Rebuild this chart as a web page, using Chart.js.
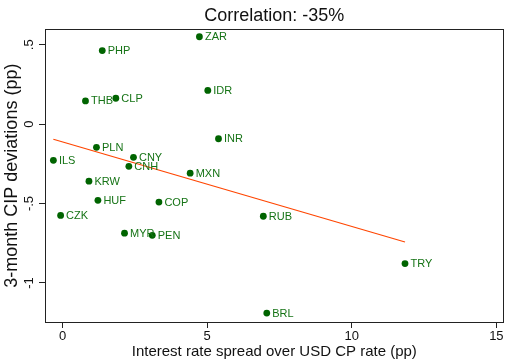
<!DOCTYPE html>
<html>
<head>
<meta charset="utf-8">
<script src="https://cdn.jsdelivr.net/npm/chart.js@4/dist/chart.umd.min.js"></script>
<style>
  html, body { margin: 0; padding: 0; background: #fff; }
  canvas { display: block; }
</style>
</head>
<body>
<canvas id="cip" width="507" height="359"></canvas>
<script>
// Currency codes and their coordinates
const codes = ['ZAR', 'PHP', 'IDR', 'THB', 'CLP', 'INR', 'PLN', 'ILS', 'CNY', 'CNH',
               'MXN', 'KRW', 'HUF', 'COP', 'CZK', 'RUB', 'MYR', 'PEN', 'TRY', 'BRL'];
// Interest rate spread over USD CP rate (pp)
const spreadPP = [4.73, 1.37, 5.02, 0.79, 1.84, 5.39, 1.17, -0.32, 2.45, 2.29,
                  4.41, 0.91, 1.22, 3.33, -0.07, 6.94, 2.14, 3.10, 11.84, 7.06];
// 3-month CIP deviations (pp)
const cipDev = [0.550, 0.463, 0.212, 0.146, 0.163, -0.092, -0.146, -0.228, -0.209, -0.266,
                -0.309, -0.359, -0.480, -0.491, -0.575, -0.580, -0.687, -0.700, -0.878, -1.190];

// Linear fit endpoints
const fitX = [-0.32, 11.84];
const fitY = [-0.095, -0.742];

// Axis ticks
const xTicks = [0, 5, 10, 15];
const xTickLabels = ['0', '5', '10', '15'];
const yTicks = [-1, -0.5, 0, 0.5];
const yTickLabels = ['-1', '-.5', '0', '.5'];

const FONT = "'Liberation Sans', Arial, Helvetica, sans-serif";
const DOT = '#006400';
const LABEL = '#157315';

// Box around the plot region
const frame = {
  id: 'frame',
  afterDatasetsDraw(chart) {
    const { ctx, chartArea: a } = chart;
    ctx.save();
    ctx.strokeStyle = '#222';
    ctx.lineWidth = 1;
    ctx.strokeRect(Math.round(a.left) + 0.5, Math.round(a.top) + 0.5,
                   Math.round(a.right - a.left) - 1, Math.round(a.bottom - a.top));
    ctx.restore();
  }
};

// Currency code to the right of each marker
const markerLabels = {
  id: 'markerLabels',
  afterDatasetsDraw(chart) {
    const meta = chart.getDatasetMeta(1);
    const { ctx } = chart;
    ctx.save();
    ctx.font = '11px ' + FONT;
    ctx.fillStyle = LABEL;
    ctx.textAlign = 'left';
    ctx.textBaseline = 'middle';
    meta.data.forEach((pt, i) => {
      ctx.fillText(codes[i], pt.x + 5.5, pt.y + 0.5);
    });
    ctx.restore();
  }
};

// Center the title over the plot region
const titleOverPlot = {
  id: 'titleOverPlot',
  afterLayout(chart) {
    const t = chart.titleBlock;
    if (t) {
      t.left = chart.chartArea.left;
      t.right = chart.chartArea.right;
    }
  }
};

new Chart(document.getElementById('cip'), {
  type: 'scatter',
  data: {
    datasets: [
      {
        type: 'line',
        data: fitX.map((x, i) => ({ x, y: fitY[i] })),
        borderColor: '#FF4500',
        borderWidth: 1.2,
        pointRadius: 0,
        fill: false,
        tension: 0
      },
      {
        data: spreadPP.map((x, i) => ({ x, y: cipDev[i] })),
        backgroundColor: DOT,
        borderColor: DOT,
        borderWidth: 0,
        pointRadius: 3.4,
        pointHoverRadius: 3.4
      }
    ]
  },
  options: {
    responsive: false,
    devicePixelRatio: 1,
    animation: false,
    events: [],
    layout: { padding: { left: 0, right: 2, top: 0, bottom: 0 } },
    plugins: {
      legend: { display: false },
      tooltip: { enabled: false },
      title: {
        display: true,
        text: 'Correlation: -35%',
        color: '#111',
        font: { family: FONT, size: 18, weight: 'normal', lineHeight: 1.2 },
        padding: { top: 5.5, bottom: 2.2 }
      }
    },
    scales: {
      x: {
        type: 'linear',
        min: -0.61,
        max: 15.25,
        afterBuildTicks: s => { s.ticks = xTicks.map(v => ({ value: v })); },
        afterFit: s => { s.height = 37; },
        ticks: {
          callback: v => xTickLabels[xTicks.indexOf(v)],
          color: '#111',
          padding: 1.5,
          maxRotation: 0,
          font: { family: FONT, size: 13, lineHeight: 1 }
        },
        grid: { drawOnChartArea: false, drawTicks: true, tickLength: 6, color: '#222' },
        border: { display: true, color: '#222' },
        title: {
          display: true,
          text: 'Interest rate spread over USD CP rate (pp)',
          color: '#111',
          font: { family: FONT, size: 15, lineHeight: 1 },
          padding: { top: 0, bottom: -0.5 }
        }
      },
      y: {
        type: 'linear',
        min: -1.246,
        max: 0.597,
        afterBuildTicks: s => { s.ticks = yTicks.map(v => ({ value: v })); },
        afterFit: s => { s.width = 45; },
        ticks: {
          callback: v => yTickLabels[yTicks.indexOf(v)],
          color: '#111',
          padding: 1.5,
          minRotation: 90,
          maxRotation: 90,
          crossAlign: 'center',
          font: { family: FONT, size: 13, lineHeight: 1 }
        },
        grid: { drawOnChartArea: false, drawTicks: true, tickLength: 6, color: '#222' },
        border: { display: true, color: '#222' },
        title: {
          display: true,
          text: '3-month CIP deviations (pp)',
          color: '#111',
          font: { family: FONT, size: 18, lineHeight: 1 },
          padding: { top: 3.5, bottom: 0 }
        }
      }
    }
  },
  plugins: [frame, markerLabels, titleOverPlot]
});
</script>
</body>
</html>
